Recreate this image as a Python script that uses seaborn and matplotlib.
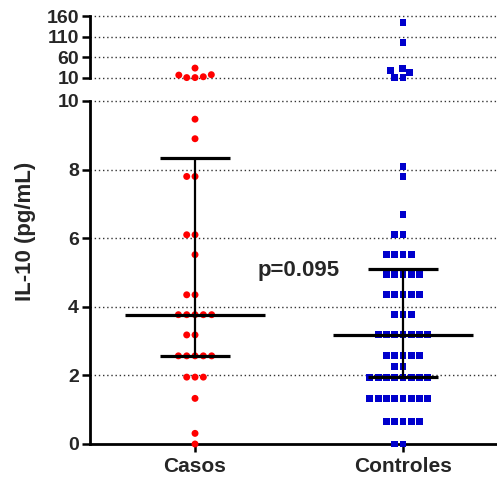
import numpy as np
import pandas as pd
import matplotlib
matplotlib.use("Agg")
import matplotlib.pyplot as plt
import seaborn as sns

# ---------------- data ----------------
groups = ["Casos", "Controles"]
casos = [0.00, 0.31, 1.33,
         1.95, 1.95, 1.95,
         2.57, 2.57, 2.57, 2.57, 2.57,
         3.18, 3.18,
         3.77, 3.77, 3.77, 3.77, 3.77,
         4.35, 4.35,
         5.52,
         6.10, 6.10,
         7.80, 7.80,
         8.90, 9.47,
         11.0, 11.0, 13.0, 17.0, 18.0, 34.0]
controles = [0.00, 0.00,
             0.66, 0.66, 0.66, 0.66, 0.66,
             1.33, 1.33, 1.33, 1.33, 1.33, 1.33, 1.33, 1.33,
             1.94, 1.94, 1.94, 1.94, 1.94, 1.94, 1.94, 1.94,
             2.26, 2.26,
             2.58, 2.58, 2.58, 2.58, 2.58,
             3.18, 3.18, 3.18, 3.18, 3.18, 3.18, 3.18,
             3.77, 3.77, 3.77,
             4.36, 4.36, 4.36, 4.36, 4.36,
             4.95, 4.95, 4.95, 4.95, 4.95,
             5.52, 5.52, 5.52, 5.52,
             6.10, 6.10,
             6.68, 7.81, 8.08,
             12.0, 12.0, 24.0, 28.0, 34.0, 96.0, 144.0]
lower_ticks = [0, 2, 4, 6, 8, 10]
upper_ticks = [10, 60, 110, 160]
p_text = "p=0.095"
y_label = "IL-10 (pg/mL)"

colors = {"Casos": "#ff0000", "Controles": "#0000cc"}
markers = {"Casos": "o", "Controles": "s"}

# ---------------- style ----------------
sns.set_style("white")
plt.rcParams["font.family"] = ["Liberation Sans", "DejaVu Sans"]
plt.rcParams["font.weight"] = "bold"

df = pd.DataFrame({
    "group": ["Casos"] * len(casos) + ["Controles"] * len(controles),
    "value": casos + controles,
})
lower = df[df["value"] <= 10]
upper = df[df["value"] > 10]

W, H = 497, 479
fig = plt.figure(figsize=(W / 100, H / 100), dpi=100)
ax_lo = fig.add_axes([90 / W, 35 / H, 407 / W, 343 / H])
ax_hi = fig.add_axes([90 / W, (H - 78) / H, 407 / W, 62 / H])

for ax, sub in ((ax_lo, lower), (ax_hi, upper)):
    for g in groups:
        d = sub[sub["group"] == g]
        sns.swarmplot(data=d, x="group", y="value", order=groups,
                      color=colors[g], marker=markers[g], size=5,
                      linewidth=0.7, edgecolor="none", ax=ax, zorder=3)
    for c in list(ax.collections):
        offs = np.asarray(c.get_offsets())
        if offs.size == 0:
            c.remove()
            continue
        c.set_clip_on(False)
        c.set_zorder(3)
    ax.set_xlabel("")
    ax.set_ylabel("")
    ax.set_xlim(-0.505, 1.452)

# median + interquartile range
for i, g in enumerate(groups):
    vals = np.array(df.loc[df["group"] == g, "value"])
    q1, med, q3 = np.percentile(vals, [25, 50, 75], method="weibull")
    ax_lo.vlines(i, q1, q3, color="black", lw=1.6, zorder=4)
    ax_lo.hlines(med, i - 0.337, i + 0.337, color="black", lw=2.3, zorder=4)
    ax_lo.hlines([q1, q3], i - 0.17, i + 0.17, color="black", lw=2.3, zorder=4)

# lower axis
ax_lo.set_ylim(0, 10)
ax_lo.set_yticks(lower_ticks)
ax_lo.set_yticklabels([str(t) for t in lower_ticks], fontsize=14, fontweight="bold")
ax_lo.set_xticks(range(len(groups)))
ax_lo.set_xticklabels(groups, fontsize=15, fontweight="bold")
for t in lower_ticks[1:]:
    ax_lo.axhline(t, color="#333333", lw=1, linestyle=(0, (1, 2)), zorder=1, clip_on=False)
for s in ("top", "right"):
    ax_lo.spines[s].set_visible(False)
for s in ("left", "bottom"):
    ax_lo.spines[s].set_linewidth(2)
    ax_lo.spines[s].set_color("black")
ax_lo.tick_params(axis="both", direction="out", length=6, width=1.8, color="black", pad=2,
                  left=True, bottom=True)
ax_lo.tick_params(axis="x", pad=3)

# upper axis
ax_hi.set_ylim(10, 160)
ax_hi.set_yticks(upper_ticks)
ax_hi.set_yticklabels([str(t) for t in upper_ticks], fontsize=14, fontweight="bold")
ax_hi.set_xticks([])
for t in upper_ticks:
    ax_hi.axhline(t, color="#333333", lw=1, linestyle=(0, (1, 2)), zorder=1, clip_on=False)
for s in ("top", "right", "bottom"):
    ax_hi.spines[s].set_visible(False)
ax_hi.spines["left"].set_linewidth(2)
ax_hi.spines["left"].set_color("black")
ax_hi.tick_params(axis="y", direction="out", length=6, width=1.8, color="black", pad=2, left=True)

# annotation and y label
ax_lo.text(0.30, 5.07, p_text, fontsize=16, fontweight="bold", ha="left", va="center")
fig.text(25 / W, 1 - 231 / H, y_label, rotation=90, fontsize=16, fontweight="bold",
         ha="center", va="center")

fig.savefig("out.png", dpi=100)
